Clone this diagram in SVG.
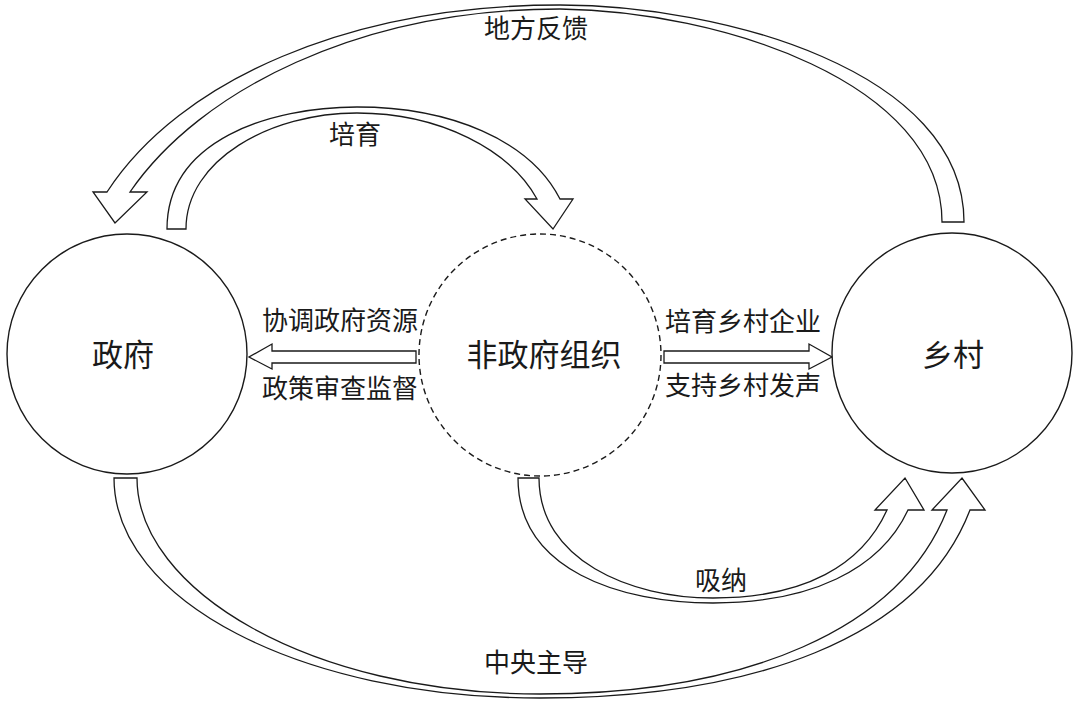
<svg xmlns="http://www.w3.org/2000/svg" width="1080" height="710" viewBox="0 0 1080 710">
<style>
.bg{fill:#ffffff}
.node{fill:#ffffff;stroke:#1a1a1a;stroke-width:1.4}
.dash{stroke-dasharray:6 4}
.arr{fill:#ffffff;stroke:#1a1a1a;stroke-width:1.3;stroke-linejoin:miter}
.t{font-family:"Noto Sans CJK SC","Noto Sans",sans-serif;fill:#1a1a1a;text-anchor:middle}
.big{font-size:31px}
.lab{font-size:26px}
</style>
<rect class="bg" x="0" y="0" width="1080" height="710"/>
<g id="connectors">
  <!-- 地方反馈: 乡村 -> 政府 -->
  <path id="c-feedback" class="arr" d="M 942 222 L 964 222 C 964 70, 720 5, 560 5 C 350 5, 180 80, 107 192 L 93 192 L 115 223 L 147 192 L 130 192 C 200 90, 360 9, 560 9 C 720 11, 942 82, 942 222 Z"/>
  <!-- 培育: 政府 -> 非政府组织 -->
  <path id="c-cultivate" class="arr" d="M 186 229 L 167 229 C 167 140, 270 107, 357 107 C 450 107, 530 140, 560 199 L 573 199 L 553 229 L 525 199 L 537 199 C 510 150, 440 113, 357 113 C 270 113, 186 160, 186 229 Z"/>
  <!-- 吸纳: 非政府组织 -> 乡村 -->
  <path id="c-absorb" class="arr" d="M 539 478 L 518 478 C 518 570, 620 603, 713 603 C 810 603, 880 570, 908 510 L 924 510 L 905 478 L 875 510 L 887 510 C 862 565, 805 598, 713 598 C 630 598, 539 560, 539 478 Z"/>
  <!-- 中央主导: 政府 -> 乡村 -->
  <path id="c-central" class="arr" d="M 137 478 L 114 478 C 114 600, 300 698, 540 698 C 750 698, 920 640, 970 510 L 985 510 L 962 478 L 932 510 L 947 510 C 900 630, 745 694, 540 694 C 310 694, 137 590, 137 478 Z"/>
  <!-- 非政府组织 -> 政府 -->
  <path id="c-ngo-gov" class="arr" d="M 416 351 L 272 351 L 272 344 L 249 357 L 272 369 L 272 363 L 416 363 Z"/>
  <!-- 非政府组织 -> 乡村 -->
  <path id="c-ngo-village" class="arr" d="M 664 351 L 809 351 L 809 344 L 832 357 L 809 369 L 809 363 L 664 363 Z"/>
  <text class="t lab" x="536" y="38">地方反馈</text>
  <text class="t lab" x="355" y="144">培育</text>
  <text class="t lab" x="721" y="590">吸纳</text>
  <text class="t lab" x="536" y="672">中央主导</text>
  <text class="t lab" x="340" y="330">协调政府资源</text>
  <text class="t lab" x="340" y="398">政策审查监督</text>
  <text class="t lab" x="743" y="331">培育乡村企业</text>
  <text class="t lab" x="743" y="395">支持乡村发声</text>
</g>
<g id="node-gov">
  <circle class="node" cx="127" cy="354" r="120"/>
  <text class="t big" x="123" y="366">政府</text>
</g>
<g id="node-ngo">
  <circle class="node dash" cx="540" cy="355" r="121"/>
  <text class="t big" x="544" y="366">非政府组织</text>
</g>
<g id="node-village">
  <circle class="node" cx="952" cy="353" r="120"/>
  <text class="t big" x="953" y="366">乡村</text>
</g>
</svg>
